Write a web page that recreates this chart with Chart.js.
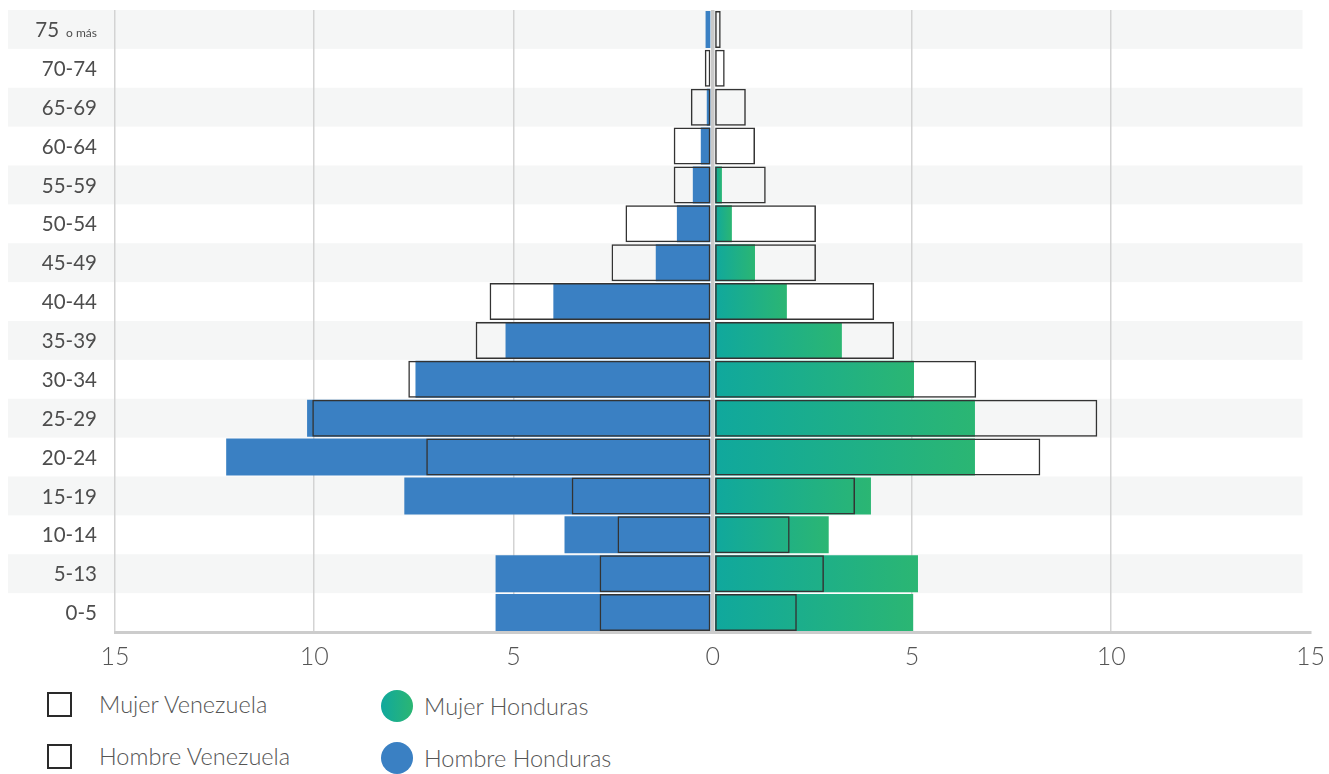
<!DOCTYPE html>
<html>
<head>
<meta charset="utf-8">
<script src="https://cdn.jsdelivr.net/npm/chart.js@4.4.1/dist/chart.umd.min.js"></script>
<style>
  html, body { margin: 0; background: #fff; font-family: Lato, sans-serif; overflow: hidden; }
  #wrap { position: relative; width: 1329px; height: 774px; overflow: hidden; }
  #chart-box { position: absolute; left: 0; top: 0; width: 1335px; height: 690px; }
  .leg { position: absolute; display: flex; align-items: center; font-size: 23.5px; font-weight: 300; color: #555; white-space: nowrap; }
  .sq { width: 21px; height: 21px; border: 2.5px solid #2a2a2a; margin-right: 27px; }
  .dot { width: 32px; height: 32px; border-radius: 50%; margin-right: 11px; }
</style>
</head>
<body>
<div id="wrap">
  <div id="chart-box"><canvas id="myChart"></canvas></div>
  <div class="leg" style="left:47px; top:690px;"><div class="sq"></div>Mujer Venezuela</div>
  <div class="leg" style="left:47px; top:742px;"><div class="sq"></div>Hombre Venezuela</div>
  <div class="leg" style="left:381px; top:690px;"><div class="dot" style="background:linear-gradient(90deg,#10a89d,#2bb673)"></div>Mujer Honduras</div>
  <div class="leg" style="left:381px; top:742px;"><div class="dot" style="background:#3a80c3"></div>Hombre Honduras</div>
</div>
<script>
// age groups, top to bottom
const ageGroups = [
    "75 o más", "70-74", "65-69", "60-64", "55-59", "50-54", "45-49", "40-44",
    "35-39", "30-34", "25-29", "20-24", "15-19", "10-14", "5-13", "0-5"
];

// percentages (men are drawn to the left)
const hombreHonduras  = [0.18, 0, 0.15, 0.3, 0.5, 0.9, 1.43, 4.0, 5.2, 7.46, 10.18, 12.21, 7.74, 3.72, 5.45, 5.45];
const hombreVenezuela = [0, 0.2, 0.55, 0.98, 0.98, 2.19, 2.54, 5.6, 5.95, 7.64, 10.05, 7.19, 3.54, 2.39, 2.84, 2.84];
const mujerHonduras   = [0, 0, 0, 0, 0.23, 0.48, 1.06, 1.86, 3.24, 5.05, 6.58, 6.58, 3.97, 2.91, 5.15, 5.03];
const mujerVenezuela  = [0.2, 0.3, 0.83, 1.06, 1.33, 2.59, 2.59, 4.05, 4.55, 6.61, 9.65, 8.22, 3.57, 1.93, 2.79, 2.11];

const xTicks = [-15, -10, -5, 0, 5, 10, 15];

const BLUE = "#3a80c3";
const GREEN_A = "#10a89d";
const GREEN_B = "#2bb673";
const OUTLINE = "#333333";
const GAP = 0.06; // small gap each side of the center line

const greenFill = (ctx) => {
    if (ctx.type !== "data") return GREEN_A;
    if (!ctx.raw) return "rgba(0,0,0,0)";
    const xs = ctx.chart.scales.x;
    const x0 = xs.getPixelForValue(GAP);
    const x1 = xs.getPixelForValue(ctx.raw);
    if (x1 - x0 < 1) return GREEN_A;
    const g = ctx.chart.ctx.createLinearGradient(x0, 0, x1, 0);
    g.addColorStop(0, GREEN_A);
    g.addColorStop(1, GREEN_B);
    return g;
};

const zeroHidden = (color) => (ctx) => (ctx.type === "data" && !ctx.raw) ? "rgba(0,0,0,0)" : color;
const outlineWidth = (ctx) => (ctx.type === "data" && !ctx.raw) ? 0 : 1.5;

// alternating row bands behind everything
const bandsPlugin = {
    id: "bands",
    beforeDraw(chart) {
        const { ctx, chartArea, scales: { y } } = chart;
        const step = (chartArea.bottom - chartArea.top) / ageGroups.length;
        ctx.save();
        ctx.fillStyle = "#f5f6f6";
        ageGroups.forEach((g, i) => {
            if (i % 2 !== 0) return;
            const yc = y.getPixelForValue(i);
            ctx.fillRect(8, yc - step / 2, chartArea.right - 16, step);
        });
        ctx.restore();
    }
};

// age labels on the left, "o más" in small type
const ageLabelsPlugin = {
    id: "ageLabels",
    afterDraw(chart) {
        const { ctx, scales: { y } } = chart;
        const right = 97;
        ctx.save();
        ctx.fillStyle = "#4d4d4d";
        ctx.textAlign = "right";
        ctx.textBaseline = "middle";
        ageGroups.forEach((g, i) => {
            const yc = y.getPixelForValue(i) + 1;
            if (g.indexOf(" o más") > 0) {
                const parts = g.split(" o más");
                ctx.font = "12px Lato";
                ctx.fillText("o más", right, yc + 3);
                const w = ctx.measureText("o más").width;
                ctx.font = "20.5px Lato";
                ctx.fillText(parts[0], right - w - 7, yc);
            } else {
                ctx.font = "20.5px Lato";
                ctx.fillText(g, right, yc);
            }
        });
        ctx.restore();
    }
};

const ctx = document.getElementById("myChart").getContext("2d");

new Chart(ctx, {
    type: "bar",
    data: {
        labels: ageGroups,
        datasets: [
            {
                label: "Mujer Venezuela",
                data: mujerVenezuela,
                base: GAP,
                backgroundColor: "rgba(0,0,0,0)",
                borderColor: OUTLINE,
                borderWidth: outlineWidth,
                borderSkipped: false,
            },
            {
                label: "Hombre Venezuela",
                data: hombreVenezuela.map(v => -v),
                base: -GAP,
                backgroundColor: "rgba(0,0,0,0)",
                borderColor: OUTLINE,
                borderWidth: outlineWidth,
                borderSkipped: false,
            },
            {
                label: "Mujer Honduras",
                data: mujerHonduras,
                base: GAP,
                backgroundColor: greenFill,
                borderWidth: 0,
            },
            {
                label: "Hombre Honduras",
                data: hombreHonduras.map(v => -v),
                base: -GAP,
                backgroundColor: zeroHidden(BLUE),
                borderWidth: 0,
            },
        ],
    },
    options: {
        indexAxis: "y",
        responsive: true,
        maintainAspectRatio: false,
        animation: false,
        datasets: {
            bar: {
                grouped: false,
                barPercentage: 0.95,
                categoryPercentage: 1,
            },
        },
        layout: {
            padding: { left: 115, right: 4, top: 10, bottom: 8 },
        },
        plugins: {
            legend: { display: false },
            tooltip: { enabled: false },
        },
        scales: {
            x: {
                min: -15,
                max: 15,
                afterBuildTicks: (scale) => {
                    scale.ticks = xTicks.map(v => ({ value: v }));
                },
                ticks: {
                    callback: (v) => Math.abs(v),
                    font: { family: "Lato", size: 25, weight: 300 },
                    color: "#555",
                    padding: 10,
                    maxRotation: 0,
                },
                grid: {
                    drawTicks: false,
                    color: (c) => {
                        if (c.tick && c.tick.value === 15) return "rgba(0,0,0,0)";
                        return c.tick && c.tick.value === 0 ? "#c9c9c9" : "#d3d3d3";
                    },
                    lineWidth: (c) => (c.tick && c.tick.value === 0) ? 3.5 : 1.5,
                },
                border: { color: "#cccccc", width: 3 },
            },
            y: {
                display: false,
            },
        },
    },
    plugins: [bandsPlugin, ageLabelsPlugin],
});
</script>
</body>
</html>
